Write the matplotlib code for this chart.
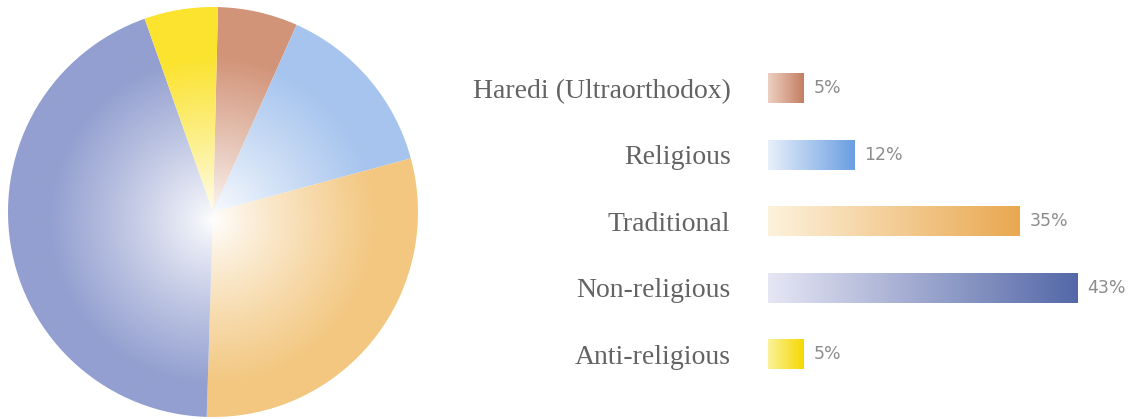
import numpy as np
import matplotlib.pyplot as plt
from matplotlib.colors import to_rgb

categories = ["Haredi (Ultraorthodox)", "Religious", "Traditional",
              "Non-religious", "Anti-religious"]
percent = [5, 12, 35, 43, 5]
# slice sizes as drawn in the printed pie (it is not drawn to scale)
pie_shares = [6.3, 14.1, 29.7, 44.1, 5.8]

pie_colors = ["#d29479", "#a6c4ee", "#f3c780", "#939fd0", "#fbe32e"]
bar_light = ["#edd0c2", "#e8f0fb", "#fdf2dc", "#e6e6f4", "#fbf29a"]
bar_dark = ["#c47e62", "#6a9ee2", "#e9a850", "#5468a8", "#f5d800"]

W, H = 1139, 419
fig = plt.figure(figsize=(W / 100, H / 100), dpi=100)

# pie with a white glow in the middle
ax = fig.add_axes([8 / W, 2 / H, 410 / W, 410 / H])
wedges, _ = ax.pie(pie_shares, startangle=88.6, counterclock=False,
                   wedgeprops=dict(linewidth=0))
n = 500
xx, yy = np.meshgrid(np.linspace(-1, 1, n), np.linspace(-1, 1, n))
t = np.clip(np.hypot(xx, yy + 0.04) / 0.8, 0, 1) ** 0.85
for w, c in zip(wedges, pie_colors):
    rgb = np.array(to_rgb(c))
    img = 1 - t[..., None] * (1 - rgb)
    im = ax.imshow(img, extent=(-1, 1, -1, 1), origin="lower", zorder=0)
    im.set_clip_path(w)
    w.set_facecolor("none")
ax.set_xlim(-1, 1)
ax.set_ylim(-1, 1)
ax.set_aspect("equal")
ax.axis("off")

# bars with a left-to-right gradient
bx = fig.add_axes([768 / W, (H - 387.5) / H, 360 / W, 332.5 / H])
ypos = np.arange(len(categories))
bars = bx.barh(ypos, percent, height=0.45, linewidth=0)
grad = np.linspace(0, 1, 256)[:, None]
for b, lo, hi in zip(bars, bar_light, bar_dark):
    lo, hi = np.array(to_rgb(lo)), np.array(to_rgb(hi))
    img = (lo + grad * (hi - lo))[None]
    x0, y0 = b.get_x(), b.get_y()
    im = bx.imshow(img, extent=(x0, x0 + b.get_width(), y0, y0 + b.get_height()),
                   aspect="auto", zorder=1)
    im.set_clip_path(b)
    b.set_facecolor("none")
bx.bar_label(bars, labels=[f"{p}%" for p in percent], padding=7,
             fontsize=12.5, color="#8c8c8c")
bx.set_xlim(0, 50)
bx.set_ylim(len(categories) - 0.5, -0.5)
bx.set_yticks(ypos, categories, family="Liberation Serif", fontsize=20,
              color="#636363")
bx.tick_params(axis="y", length=0, pad=27)
bx.set_xticks([])
for s in bx.spines.values():
    s.set_visible(False)

fig.savefig("out.png", dpi=100)
